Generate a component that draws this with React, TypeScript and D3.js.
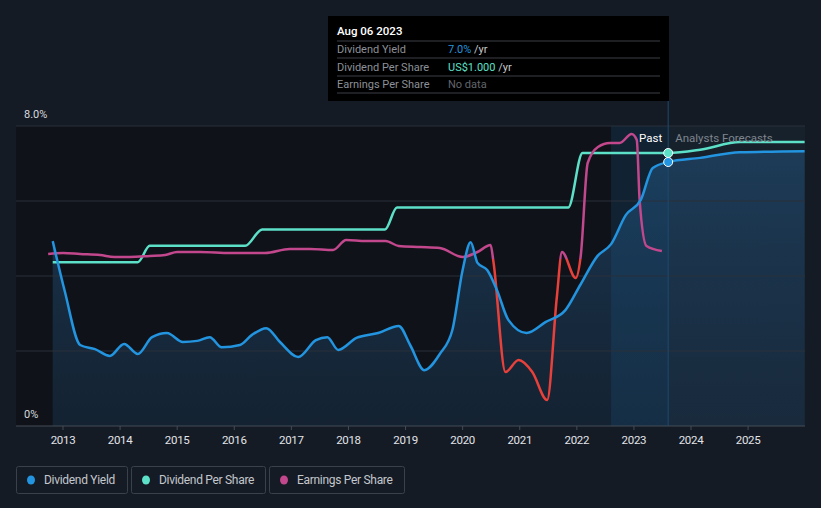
import React from 'react';
import * as d3 from 'd3';

// Dividend yield (%), past then analyst forecast
const yieldYears = [2012.82, 2013.03, 2013.3, 2013.56, 2013.82, 2014.07, 2014.31, 2014.56, 2014.82, 2015.1, 2015.35, 2015.57, 2015.78, 2016.1, 2016.31, 2016.56, 2016.8, 2017.12, 2017.43, 2017.63, 2017.82, 2018.14, 2018.52, 2018.88, 2019.08, 2019.33, 2019.6, 2019.82, 2020.0, 2020.14, 2020.26, 2020.43, 2020.6, 2020.8, 2021.12, 2021.45, 2021.8, 2022.06, 2022.36, 2022.6, 2022.86, 2023.12, 2023.33, 2023.6];
const yieldValues = [4.93, 3.6, 2.16, 2.05, 1.87, 2.19, 1.92, 2.37, 2.48, 2.24, 2.27, 2.37, 2.1, 2.16, 2.43, 2.61, 2.24, 1.84, 2.29, 2.37, 2.03, 2.35, 2.48, 2.67, 2.16, 1.49, 1.92, 2.56, 4.16, 4.9, 4.35, 4.16, 3.63, 2.83, 2.48, 2.77, 3.09, 3.76, 4.53, 4.85, 5.63, 6.03, 6.88, 7.04];
const yieldFcYears = [2023.6, 2024.16, 2024.86, 2025.99];
const yieldFcValues = [7.04, 7.15, 7.3, 7.33];

// Dividend per share (US$)
const dpsYears = [2012.82, 2014.31, 2014.52, 2016.19, 2016.49, 2018.64, 2018.85, 2021.85, 2022.1, 2023.6];
const dpsValues = [0.6, 0.6, 0.66, 0.66, 0.72, 0.72, 0.8, 0.8, 1.0, 1.0];
const dpsFcYears = [2023.6, 2024.16, 2024.86, 2025.99];
const dpsFcValues = [1.0, 1.012, 1.04, 1.04];

// Earnings per share (US$)
const epsYears = [2012.74, 2013.0, 2013.3, 2013.65, 2013.9, 2014.17, 2014.52, 2014.79, 2015.0, 2015.4, 2015.93, 2016.54, 2016.97, 2017.33, 2017.73, 2017.96, 2018.3, 2018.65, 2018.88, 2019.26, 2019.6, 2020.0, 2020.26, 2020.49, 2020.54, 2020.75, 2020.98, 2021.22, 2021.48, 2021.65, 2021.74, 2021.98, 2022.07, 2022.19, 2022.37, 2022.58, 2022.75, 2022.96, 2023.05, 2023.1, 2023.22, 2023.49];
const epsValues = [0.04, 0.048, 0.04, 0.032, 0.016, 0.016, 0.024, 0.032, 0.056, 0.056, 0.048, 0.048, 0.08, 0.08, 0.072, 0.152, 0.144, 0.144, 0.104, 0.096, 0.088, 0.016, 0.056, 0.112, -0.024, -0.904, -0.808, -0.904, -1.128, -0.304, 0.056, -0.152, 0.032, 0.768, 0.896, 0.928, 0.928, 1.0, 0.952, 0.472, 0.104, 0.064];

const yearTicks = [2013, 2014, 2015, 2016, 2017, 2018, 2019, 2020, 2021, 2022, 2023, 2024, 2025];
const yieldGrid = [0, 2, 4, 6, 8];
const legendItems = ['Dividend Yield', 'Dividend Per Share', 'Earnings Per Share'];

const W = 821;
const H = 508;
const nowYear = 2023.6;
const bandStart = 2022.6;

const C = {
  bg: '#151b25',
  past: '#0f1319',
  fc: '#17212c',
  grid: '#2a313b',
  blue: '#2394df',
  teal: '#5de0c8',
  pink: '#c2478c',
  red: '#e8403a',
};

const App = () => {
  const x = d3.scaleLinear().domain([2013, 2026]).range([63, 805.2]);
  const y = d3.scaleLinear().domain([0, 8]).range([426, 126]);
  const yDps = d3.scaleLinear().domain([0, 1]).range([426, 153]);
  const yEps = d3.scaleLinear().domain([0, 1]).range([259, 134]);

  const left = 16;
  const right = 805;
  const top = y(8);
  const bottom = y(0);

  const yieldAll = yieldYears.map((t, i) => [t, yieldValues[i]]).concat(yieldFcYears.slice(1).map((t, i) => [t, yieldFcValues[i + 1]]));
  const dpsAll = dpsYears.map((t, i) => [t, dpsValues[i]]).concat(dpsFcYears.slice(1).map((t, i) => [t, dpsFcValues[i + 1]]));
  const epsAll = epsYears.map((t, i) => [t, epsValues[i]]);

  const yieldLine = d3.line().x(d => x(d[0])).y(d => y(d[1])).curve(d3.curveMonotoneX);
  const yieldArea = d3.area().x(d => x(d[0])).y0(bottom).y1(d => y(d[1])).curve(d3.curveMonotoneX);
  const dpsLine = d3.line().x(d => x(d[0])).y(d => yDps(d[1])).curve(d3.curveMonotoneX);
  const epsLine = d3.line().x(d => x(d[0])).y(d => yEps(d[1])).curve(d3.curveMonotoneX);

  const xNow = x(nowYear);
  const xBand = x(bandStart);
  const zeroEps = yEps(0);

  const legendX = [16, 131, 269];
  const legendW = [111, 134, 135];
  const legendColors = [C.blue, C.teal, C.pink];

  return (
    <div style={{ position: 'fixed', left: 0, top: 0 }}>
      <svg width={W} height={H} style={{ display: 'block', fontFamily: 'Roboto, sans-serif' }}>
        <defs>
          <linearGradient id="areaGrad" x1="0" y1="0" x2="0" y2="1">
            <stop offset="0%" stopColor="#1f4466" stopOpacity={0.75} />
            <stop offset="100%" stopColor="#1a3550" stopOpacity={0.45} />
          </linearGradient>
          <clipPath id="epsPos">
            <rect x={0} y={0} width={W} height={zeroEps} />
          </clipPath>
          <clipPath id="epsNeg">
            <rect x={0} y={zeroEps} width={W} height={H - zeroEps} />
          </clipPath>
        </defs>

        <rect x={0} y={0} width={W} height={H} fill={C.bg} />
        <rect x={left} y={top} width={xNow - left} height={bottom - top} fill={C.past} />
        <rect x={xNow} y={top} width={right - xNow} height={bottom - top} fill={C.fc} />

        <path d={yieldArea(yieldAll)} fill="url(#areaGrad)" />
        <rect x={xBand} y={top} width={xNow - xBand} height={bottom - top} fill="#1a5a8c" opacity={0.22} />

        {yieldGrid.map(v => (
          <line key={v} x1={left} x2={right} y1={y(v)} y2={y(v)} stroke={v === 0 ? '#454c57' : C.grid} strokeWidth={1} />
        ))}
        <line x1={xNow} x2={xNow} y1={101} y2={bottom} stroke="#1d4a6e" strokeWidth={1} />

        {yearTicks.map(t => (
          <g key={t}>
            <line x1={x(t)} x2={x(t)} y1={bottom} y2={bottom + 4} stroke="#454c57" />
            <text x={x(t)} y={444} fill="#e2e4e8" fontSize={11.5} textAnchor="middle" style={{ letterSpacing: '-0.3px' }}>{t}</text>
          </g>
        ))}
        <text x={24} y={118} fill="#d8dade" fontSize={11}>8.0%</text>
        <text x={24} y={418} fill="#d8dade" fontSize={11}>0%</text>

        <path d={dpsLine(dpsAll)} fill="none" stroke={C.teal} strokeWidth={2.5} />
        <path d={epsLine(epsAll)} fill="none" stroke={C.pink} strokeWidth={2.5} clipPath="url(#epsPos)" />
        <path d={epsLine(epsAll)} fill="none" stroke={C.red} strokeWidth={2.5} clipPath="url(#epsNeg)" />
        <path d={yieldLine(yieldAll)} fill="none" stroke={C.blue} strokeWidth={2.5} />

        <circle cx={xNow} cy={yDps(dpsFcValues[0])} r={4.5} fill={C.teal} stroke="#ffffff" strokeWidth={1} />
        <circle cx={xNow} cy={y(yieldFcValues[0])} r={4.5} fill={C.blue} stroke="#ffffff" strokeWidth={1} />

        <text x={xNow - 6} y={142} fill="#ffffff" fontSize={11.5} textAnchor="end">Past</text>
        <text x={xNow + 7} y={142} fill="#7f858d" fontSize={11.5}>Analysts Forecasts</text>

        <g>
          <rect x={328} y={16} width={341} height={85} fill="#000000" />
          <text x={337} y={35} fill="#ffffff" fontSize={11.5} fontWeight={500}>Aug 06 2023</text>
          {[41, 58, 76, 93].map(v => (
            <line key={v} x1={337} x2={660} y1={v} y2={v} stroke="#3d3f44" />
          ))}
          <text x={337} y={53} fill="#8c9097" fontSize={11}>Dividend Yield</text>
          <text x={337} y={71} fill="#8c9097" fontSize={11}>Dividend Per Share</text>
          <text x={337} y={88} fill="#8c9097" fontSize={11}>Earnings Per Share</text>
          <text x={448} y={53} fontSize={11}>
            <tspan fill={C.blue}>7.0%</tspan>
            <tspan fill="#c8cacd"> /yr</tspan>
          </text>
          <text x={448} y={71} fontSize={11}>
            <tspan fill={C.teal}>US$1.000</tspan>
            <tspan fill="#c8cacd"> /yr</tspan>
          </text>
          <text x={448} y={88} fill="#62666c" fontSize={11}>No data</text>
        </g>

        {legendItems.map((name, i) => (
          <g key={name}>
            <rect x={legendX[i] + 0.5} y={466.5} width={legendW[i]} height={27} rx={2} fill="none" stroke="#3b414b" />
            <ellipse cx={legendX[i] + 15} cy={480} rx={4} ry={4.5} fill={legendColors[i]} />
            <text x={legendX[i] + 28} y={484} fill="#c4c7cc" fontSize={12} style={{ letterSpacing: '-0.3px' }}>{name}</text>
          </g>
        ))}
      </svg>
    </div>
  );
};

export default App;
